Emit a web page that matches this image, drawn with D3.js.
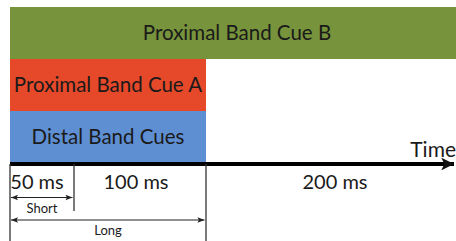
<!DOCTYPE html>
<html>
<head>
<meta charset="utf-8">
<script src="https://cdn.jsdelivr.net/npm/d3@7"></script>
<style>
  body { margin: 0; background: #fff; }
  text { font-family: Lato, "Open Sans", sans-serif; fill: #1a1a1a; }
</style>
</head>
<body>
<svg class="cues"></svg>
<script>
const size = {w: 456, h: 241};

// cue rows, top to bottom
const rows = ['B', 'A', 'D'];
const bandLabels = ['Proximal Band Cue B', 'Proximal Band Cue A', 'Distal Band Cues'];
const bandStart = [0, 0, 0];
const bandEnd = [350, 150, 150];
const bandColors = ['#77933c', '#e5492a', '#5f8fd3'];

// time segments (ms) along the axis
const segStart = [0, 50, 150];
const segEnd = [50, 150, 350];
const segLabels = ['50 ms', '100 ms', '200 ms'];

// duration brackets
const spanLabels = ['Short', 'Long'];
const spanEnd = [50, 150];

const svg = d3.select('svg.cues')
    .attr('width', size.w)
    .attr('height', size.h);

// segments are not drawn to scale, so piecewise linear
const x = d3.scaleLinear()
    .domain([0, 50, 150, 350])
    .range([10, 74, 206, 456]);

const y = d3.scaleBand()
    .domain(rows)
    .range([7, 163]);

const axisY = 164;

// bands
const bands = svg.append('g').selectAll('g')
    .data(rows.map((r, i) => ({row: r, label: bandLabels[i], s: bandStart[i], e: bandEnd[i], c: bandColors[i]})))
    .join('g');

bands.append('rect')
    .attr('x', d => x(d.s))
    .attr('y', d => y(d.row))
    .attr('width', d => x(d.e) - x(d.s))
    .attr('height', y.bandwidth())
    .attr('fill', d => d.c);

bands.append('text')
    .attr('x', d => (x(d.s) + Math.min(x(d.e), 456)) / 2 + (d.row === 'B' ? 4 : 0))
    .attr('y', d => y(d.row) + y.bandwidth() / 2)
    .attr('dy', '0.36em')
    .attr('text-anchor', 'middle')
    .attr('font-size', 20.5)
    .text(d => d.label);

// arrow markers
const defs = svg.append('defs');
defs.append('marker')
    .attr('id', 'head')
    .attr('viewBox', '0 0 10 10')
    .attr('refX', 10).attr('refY', 5)
    .attr('markerWidth', 4).attr('markerHeight', 3.2)
    .attr('markerUnits', 'strokeWidth')
    .attr('orient', 'auto-start-reverse')
    .append('path')
    .attr('d', 'M0,0 L10,5 L0,10 L2.5,5 Z')
    .attr('fill', '#111');

defs.append('marker')
    .attr('id', 'small')
    .attr('viewBox', '0 0 10 10')
    .attr('refX', 10).attr('refY', 5)
    .attr('markerWidth', 9).attr('markerHeight', 7)
    .attr('markerUnits', 'userSpaceOnUse')
    .attr('orient', 'auto-start-reverse')
    .append('path')
    .attr('d', 'M0,1 L10,5 L0,9 L2,5 Z')
    .attr('fill', '#222');

// time axis
svg.append('line')
    .attr('x1', x(0))
    .attr('x2', 454)
    .attr('y1', axisY).attr('y2', axisY)
    .attr('stroke', '#000')
    .attr('stroke-width', 4)
    .attr('marker-end', 'url(#head)');

svg.append('text')
    .attr('x', 456)
    .attr('y', 157)
    .attr('text-anchor', 'end')
    .attr('font-size', 21)
    .text('Time');

// tick lines
const ticks = [0, 50, 150];
const tickBottom = [241, 211, 241];
svg.append('g').selectAll('line')
    .data(ticks)
    .join('line')
    .attr('x1', d => x(d)).attr('x2', d => x(d))
    .attr('y1', axisY)
    .attr('y2', (d, i) => tickBottom[i])
    .attr('stroke', '#333')
    .attr('stroke-width', 1.3);

// segment labels (nudged like the original slide)
const nudge = [-5, -4, 4];
svg.append('g').selectAll('text')
    .data(segLabels)
    .join('text')
    .attr('x', (d, i) => (x(segStart[i]) + Math.min(x(segEnd[i]), 456)) / 2 + nudge[i])
    .attr('y', 189)
    .attr('text-anchor', 'middle')
    .attr('font-size', 20)
    .text(d => d);

// duration brackets
const spanY = [197.5, 220];
const spans = svg.append('g').selectAll('g')
    .data(spanLabels)
    .join('g');

spans.append('line')
    .attr('x1', x(0) + 1)
    .attr('x2', (d, i) => x(spanEnd[i]) - 1.5)
    .attr('y1', (d, i) => spanY[i])
    .attr('y2', (d, i) => spanY[i])
    .attr('stroke', '#222')
    .attr('stroke-width', 1.2)
    .attr('marker-start', 'url(#small)')
    .attr('marker-end', 'url(#small)');

spans.append('text')
    .attr('x', (d, i) => (x(0) + x(spanEnd[i])) / 2)
    .attr('y', (d, i) => spanY[i] + 15)
    .attr('text-anchor', 'middle')
    .attr('font-size', 13)
    .text(d => d);
</script>
</body>
</html>
